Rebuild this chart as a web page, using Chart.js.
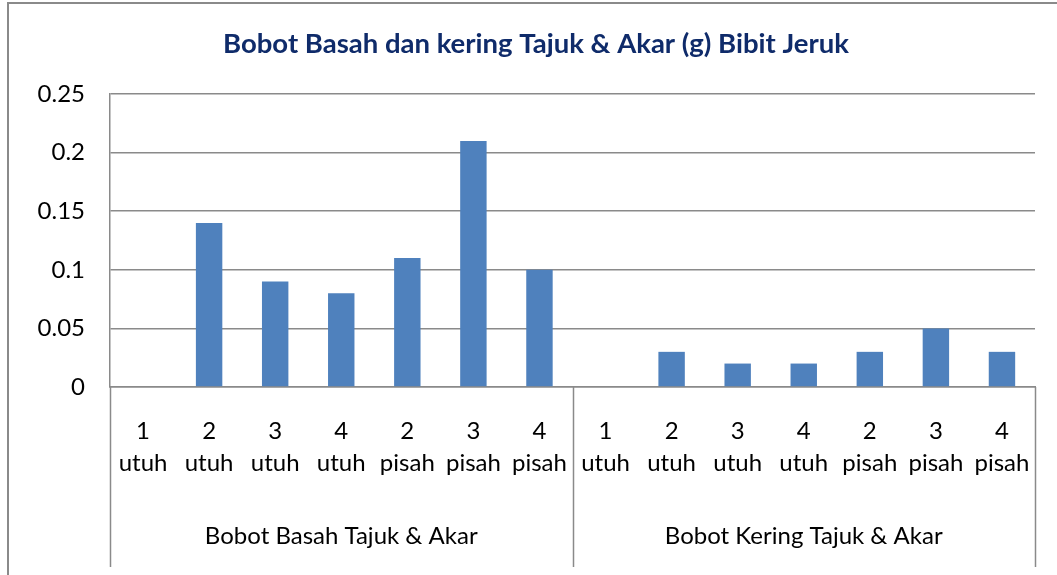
<!DOCTYPE html>
<html>
<head>
<meta charset="utf-8">
<script src="https://cdn.jsdelivr.net/npm/chart.js@4.4.1/dist/chart.umd.min.js"></script>
<style>
  html,body{margin:0;padding:0;background:#fff;overflow:hidden;}
  #frame{position:absolute;left:7px;top:2px;width:1100px;height:620px;border:2px solid #8a8a8a;box-sizing:border-box;}
  #wrap{position:absolute;left:0;top:0;width:1057px;height:575px;}
</style>
</head>
<body>
<div id="frame"></div>
<div id="wrap"><canvas id="c" width="1057" height="575"></canvas></div>
<script>
const title = 'Bobot Basah dan kering Tajuk & Akar (g) Bibit Jeruk';
const numbers = ['1','2','3','4','2','3','4','1','2','3','4','2','3','4'];
const kinds = ['utuh','utuh','utuh','utuh','pisah','pisah','pisah','utuh','utuh','utuh','utuh','pisah','pisah','pisah'];
const groups = ['Bobot Basah Tajuk & Akar','Bobot Kering Tajuk & Akar'];
const groupSize = 7;
const values = [0, 0.14, 0.09, 0.08, 0.11, 0.21, 0.10, 0, 0.03, 0.02, 0.02, 0.03, 0.05, 0.03];
const yTicks = ['0','0.05','0.1','0.15','0.2','0.25'];

const labels = numbers.map((n,i)=>[n, kinds[i]]);
const groupLabels = labels.map((_,i)=>{
  const g = Math.floor(i/groupSize), pos = i%groupSize;
  return pos === Math.floor(groupSize/2) ? groups[g] : '';
});
const FONT = 'Lato';
const lineCol = '#8a8a8a';

const separators = {
  id:'separators',
  afterDraw(chart){
    const ctx = chart.ctx, x = chart.scales.x, a = chart.chartArea;
    const xs = [a.left];
    for(let g=1; g<groups.length; g++){
      const i = g*groupSize;
      xs.push((x.getPixelForValue(i-1)+x.getPixelForValue(i))/2);
    }
    xs.push(a.right);
    ctx.save();
    ctx.strokeStyle = lineCol; ctx.lineWidth = 1.5;
    xs.forEach(px=>{
      ctx.beginPath(); ctx.moveTo(Math.round(px)+0.5, a.bottom); ctx.lineTo(Math.round(px)+0.5, 567); ctx.stroke();
    });
    ctx.restore();
  }
};

function noPad(s){ s.paddingLeft = 0; s.paddingRight = 0; }

new Chart(document.getElementById('c'), {
  type:'bar',
  data:{ labels, datasets:[{ data: values, backgroundColor:'#4F81BD', borderWidth:0, barPercentage:0.4, categoryPercentage:1 }] },
  options:{
    responsive:false, animation:false,
    layout:{ padding:{ left:37, right:22, top:0, bottom:0 } },
    plugins:{
      legend:{ display:false }, tooltip:{ enabled:false },
      title:{ display:true, text:title, color:'#0F2B6A', font:{ family:FONT, size:27.5, weight:'bold' }, padding:{ top:28, bottom:33 } }
    },
    scales:{
      y:{
        min:0, max:0.25,
        ticks:{ stepSize:0.05, color:'#000', padding:25, font:{ family:FONT, size:24 },
          callback:(v,i)=>yTicks[i] },
        grid:{ color:lineCol, lineWidth:1.5, drawTicks:false },
        border:{ display:true, color:lineCol, width:1.5 },
        afterFit(s){ s.width = 73; }
      },
      x:{
        ticks:{ color:'#000', padding:29, maxRotation:0, autoSkip:false, font:{ family:FONT, size:24, lineHeight:1.3 } },
        grid:{ display:false, drawTicks:false },
        border:{ display:true, color:lineCol, width:1.5 },
        afterFit(s){ s.height = 110; noPad(s); }
      },
      x2:{
        type:'category', position:'bottom', labels: groupLabels,
        ticks:{ color:'#000', padding:25, maxRotation:0, autoSkip:false, font:{ family:FONT, size:24 } },
        grid:{ display:false, drawTicks:false },
        border:{ display:false },
        afterFit(s){ s.height = 78; noPad(s); }
      }
    }
  },
  plugins:[separators]
});
</script>
</body>
</html>
